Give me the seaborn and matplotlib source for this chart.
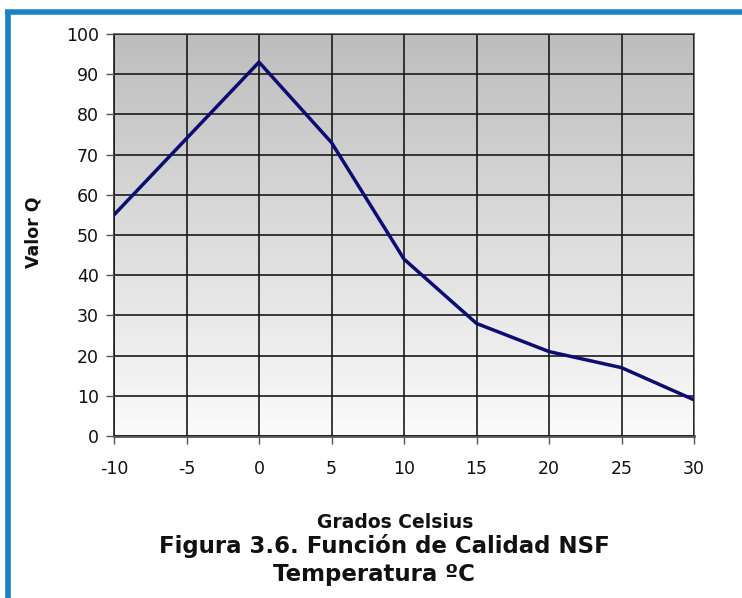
import numpy as np
import pandas as pd
import matplotlib
matplotlib.use("Agg")
import matplotlib.pyplot as plt
from matplotlib.lines import Line2D
from matplotlib.colors import LinearSegmentedColormap
import seaborn as sns

# Data
temperatura = [-10, -5, 0, 5, 10, 15, 20, 25, 30]
valor_q = [55, 74, 93, 73, 44, 28, 21, 17, 9]
x_ticks = [-10, -5, 0, 5, 10, 15, 20, 25, 30]
y_ticks = [0, 10, 20, 30, 40, 50, 60, 70, 80, 90, 100]

sns.set_theme(style="white")
plt.rcParams['font.family'] = ['DejaVu Sans']

fig = plt.figure(figsize=(7.42, 5.98), dpi=100)
ax = fig.add_axes([114/742, 1-436/598, (694-114)/742, (436-34)/598])

# gradient background
cmap = LinearSegmentedColormap.from_list("g", ["#fbfbfb", "#bdbdbd"])
grad = np.linspace(0, 1, 256).reshape(-1, 1)
ax.imshow(grad, extent=[-10, 30, 0, 100], origin="lower", aspect="auto",
          cmap=cmap, zorder=0, interpolation="bicubic")

df = pd.DataFrame({"Grados Celsius": temperatura, "Valor Q": valor_q})
sns.lineplot(data=df, x="Grados Celsius", y="Valor Q", ax=ax, color="#0c0c72",
             linewidth=2.5, zorder=3)

ax.set_xlim(-10, 30)
ax.set_ylim(0, 100)
ax.set_xticks(x_ticks)
ax.set_yticks(y_ticks)
ax.set_xticklabels([str(t) for t in x_ticks])
ax.grid(True, color="#1a1a1a", linewidth=1.2, zorder=1)
ax.set_axisbelow(False)
for s in ax.spines.values():
    s.set_color("#666666")
    s.set_linewidth(1.3)
ax.spines["left"].set_color("#333333")
ax.spines["bottom"].set_color("#555555")
ax.spines["bottom"].set_linewidth(2)
ax.tick_params(axis="both", which="major", direction="out", length=6, width=1,
               color="#555555", labelsize=12.5, labelcolor="#111111", pad=5,
               bottom=True, left=True)
ax.tick_params(axis="x", pad=11)

ax.set_xlabel("Grados Celsius", fontsize=13.5, fontweight="bold",
              color="#111111")
ax.xaxis.set_label_coords((395-114)/580, -(513-436)/402)
ax.set_ylabel("Valor Q", fontsize=12.5, fontweight="bold", color="#111111")
ax.yaxis.set_label_coords(-(114-42)/580, (436-232)/402)

fig.text(384/742, 1-546/598, "Figura 3.6. Función de Calidad NSF", ha="center",
         va="center", fontsize=16.5, fontweight="bold", color="#111111")
fig.text(374/742, 1-575/598, "Temperatura ºC", ha="center", va="center",
         fontsize=16.5, fontweight="bold", color="#111111")

# blue frame
blue = "#1a82c4"
fig.add_artist(Line2D([5/742, 1], [1-11.5/598, 1-11.5/598], transform=fig.transFigure,
                      color=blue, linewidth=4, solid_capstyle="butt"))
fig.add_artist(Line2D([8/742, 8/742], [0, 1-11.5/598], transform=fig.transFigure,
                      color=blue, linewidth=4, solid_capstyle="butt"))

fig.savefig("out.png", dpi=100)
